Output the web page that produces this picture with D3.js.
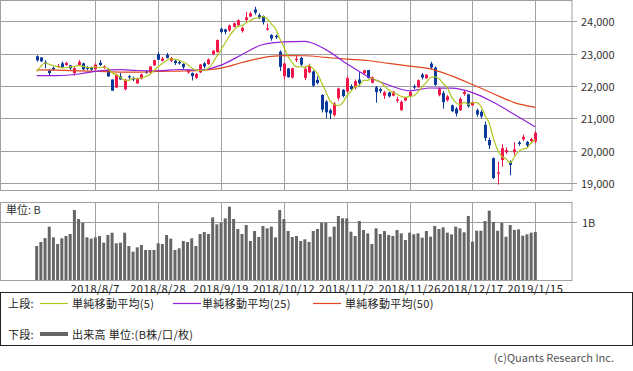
<!DOCTYPE html>
<html>
<head>
<meta charset="UTF-8">
<title>日経平均 日足</title>
<script src="https://d3js.org/d3.v7.min.js"></script>
<style>
  body { margin: 0; background: #fff; }
  text { font-family: "Noto Sans CJK JP", "Noto Sans", sans-serif; }
</style>
</head>
<body>
<svg id="chart"></svg>
<script>
// daily candles, 2018/7/18 .. 2019/1/15 (index 0..119)
const opens = [22920,22880,22730,22480,22560,22600,22700,22650,22640,22400,
  22650,22700,22580,22580,22520,22720,22560,22500,22200,21950,
  22300,21900,22310,22250,22080,22230,22450,22420,22640,22990,
  22780,22960,22780,22780,22740,22680,22420,22400,22250,22420,
  22700,22680,22990,23050,23770,23750,23720,23830,23880,23700,
  24040,24150,24364,24190,24160,23740,23580,23550,23060,22300,
  22540,22260,22800,22870,22250,22420,22450,22190,21720,21520,
  21250,21100,21620,21880,21830,22000,21950,22200,22400,22490,
  22100,21960,21900,21700,21800,21700,21540,21250,21550,21680,
  21990,21960,22350,22240,22690,22570,21720,21780,21560,21400,
  21300,21250,21750,21740,21400,21250,21200,20800,20330,19770,
  19290,19710,19950,19655,19950,20250,20350,20270,20300,20280];
const highs = [22950,22900,22800,22520,22600,22680,22760,22750,22650,22580,
  22800,22720,22620,22600,22700,22800,22640,22560,22200,22380,
  22400,22220,22330,22290,22260,22380,22480,22620,22810,23050,
  22900,23020,22900,22800,22780,22700,22520,22420,22400,22680,
  22740,22850,23100,23440,23800,23770,23900,23960,24060,23830,
  24290,24300,24448,24250,24180,23930,23600,23590,23100,22720,
  22560,22560,22960,22900,22620,22690,22480,22300,21750,21560,
  21300,21500,21950,21900,22300,22050,22200,22430,22500,22500,
  22300,22000,21950,21850,21820,21850,21670,21550,21660,21850,
  22050,22200,22400,22360,22750,22600,21950,21850,21720,21420,
  21350,21650,21880,21760,21520,21300,21250,20900,20400,19790,
  19660,20200,20100,19700,20266,20300,20494,20300,20400,20600];
const lows = [22750,22740,22550,22320,22480,22560,22560,22620,22500,22320,
  22620,22490,22480,22470,22500,22620,22530,22280,21850,21940,
  22190,21860,22200,22150,22060,22200,22380,22400,22620,22800,
  22760,22850,22740,22650,22660,22520,22380,22170,22220,22400,
  22540,22650,22950,23030,23620,23600,23680,23810,23860,23650,
  23990,24130,24203,24070,23900,23710,23400,23450,22460,22200,
  22260,22230,22740,22620,22180,22400,21970,22050,21180,21000,
  20971,21050,21550,21650,21800,21860,21900,21980,22350,22230,
  22080,21480,21780,21600,21640,21680,21480,21240,21530,21660,
  21900,21950,22200,22220,22520,22000,21680,21300,21520,21200,
  21060,21230,21700,21330,21380,21050,21000,20300,20050,19118,
  18949,19500,19900,19241,19850,20150,20300,20100,20250,20230];
const closes = [22794,22764,22698,22397,22510,22614,22586,22712,22544,22553,
  22746,22512,22525,22507,22662,22644,22598,22298,21857,22356,
  22204,22192,22270,22199,22219,22362,22410,22601,22799,22813,
  22848,22869,22865,22707,22696,22580,22487,22307,22373,22664,
  22604,22821,23094,23420,23672,23674,23869,23940,24033,23796,
  24120,24245,24270,24110,23975,23783,23469,23506,22590,22694,
  22271,22549,22841,22658,22532,22614,22010,22091,21268,21184,
  21149,21457,21920,21687,22243,21898,22147,22085,22486,22250,
  22269,21810,21846,21803,21680,21821,21583,21507,21646,21812,
  21952,22177,22262,22351,22574,22036,21919,21501,21678,21219,
  21148,21602,21816,21374,21506,21115,21060,20392,20166,19155,
  19327,20077,20015,19561,20038,20204,20427,20163,20360,20555];

// 5-day moving average, one value per candle
const ma5 = [22441,22608,22710,22670,22633,22597,22561,22564,22593,22602,
  22628,22613,22576,22569,22590,22570,22587,22542,22412,22351,
  22263,22181,22176,22244,22217,22248,22292,22358,22478,22597,
  22694,22786,22839,22820,22797,22743,22667,22555,22489,22482,
  22487,22554,22711,22921,23122,23336,23546,23715,23838,23862,
  23952,24027,24093,24108,24144,24077,23921,23769,23465,23208,
  22906,22722,22589,22603,22570,22639,22531,22381,22103,21833,
  21540,21430,21396,21479,21691,21841,21979,22012,22172,22173,
  22247,22180,22132,21996,21882,21792,21747,21679,21647,21674,
  21700,21819,21970,22111,22263,22280,22228,22076,21942,21671,
  21493,21430,21493,21432,21489,21483,21374,21089,20848,20378,
  20020,19823,19748,19627,19804,19979,20049,20079,20238,20342];

// 25 / 50 day averages, read at these candle indices
const maIdx = [0,5,10,15,20,24,29,34,39,44,49,54,59,64,69,74,79,84,89,94,99,104,109,114,119];
const ma25 = [22320,22320,22370,22470,22505,22478,22471,22510,22489,22643,22972,23282,23364,
  23381,23124,22689,22295,22030,21851,21937,21932,21796,21495,21121,20737];
const ma50 = [22500,22490,22470,22450,22430,22430,22450,22460,22480,22550,22725,22876,22937,
  22935,22883,22831,22788,22697,22616,22530,22311,22045,21762,21486,21337];

// volume in B
const volumes = [0.583,0.652,0.72,0.914,0.732,0.617,0.715,0.755,0.789,1.2,
  1.046,0.983,0.732,0.709,0.732,0.755,0.64,0.772,0.811,0.63,
  0.64,0.811,0.583,0.486,0.56,0.6,0.515,0.515,0.515,0.629,
  0.617,0.772,0.709,0.515,0.543,0.669,0.652,0.715,0.583,0.789,
  0.823,0.789,1.075,0.955,0.983,1.057,1.258,1.046,0.875,0.789,
  0.943,0.669,0.84,0.738,0.926,0.886,0.915,0.732,1.2,1.046,
  0.84,0.738,0.755,0.669,0.698,0.652,0.84,0.875,0.983,0.983,
  0.743,0.915,1.098,1.058,1.058,0.829,0.755,1.012,0.858,0.8,
  0.617,0.886,0.789,0.84,0.772,0.755,0.858,0.8,0.686,0.812,
  0.783,0.8,0.726,0.84,0.743,0.926,0.875,0.903,0.812,0.783,
  0.915,0.886,0.818,1.098,0.658,0.846,0.846,1.012,1.189,0.995,
  0.846,0.983,0.743,0.943,0.858,0.869,0.76,0.783,0.812,0.823];

const tickIdx = [14,29,44,59,74,89,104,119];
const tickLabels = ["2018/8/7","2018/8/28","2018/9/19","2018/10/12","2018/11/2","2018/11/26","2018/12/17","2019/1/15"];
const priceTicks = [19000,20000,21000,22000,23000,24000];
const volTicks = [1];

const width = 633, height = 371;
const plotR = 572;
const main = {top: 0, bottom: 190};
const vol = {top: 202, bottom: 280};
const grid = "#a0a0a0";
const upColor = "#f2164a", downColor = "#0c3a9c";

const svg = d3.select("#chart").attr("width", width).attr("height", height);

const x = d3.scaleLinear().domain([-8.75, 127.75]).range([0, plotR]);
const y = d3.scaleLinear().domain([19000, 24000]).range([183, 21.3]);
const yv = d3.scaleLinear().domain([0, 1]).range([vol.bottom, 221.7]);

// panel frames
[main, vol].forEach(p => {
  svg.append("rect")
    .attr("x", 0.5).attr("y", p.top + 0.5)
    .attr("width", plotR - 0.5).attr("height", p.bottom - p.top)
    .attr("fill", "none").attr("stroke", grid);
});

// vertical grid through both panels
[main, vol].forEach(p => {
  svg.append("g").selectAll("line").data(tickIdx).join("line")
    .attr("x1", d => Math.round(x(d)) + 0.5).attr("x2", d => Math.round(x(d)) + 0.5)
    .attr("y1", p.top).attr("y2", p.bottom)
    .attr("stroke", grid);
});

// price grid + labels
svg.append("g").selectAll("line").data(priceTicks).join("line")
  .attr("x1", 0).attr("x2", plotR + 5)
  .attr("y1", d => Math.round(y(d)) + 0.5).attr("y2", d => Math.round(y(d)) + 0.5)
  .attr("stroke", grid);
svg.append("g").selectAll("text").data(priceTicks).join("text")
  .attr("x", 581).attr("y", d => y(d))
  .attr("dominant-baseline", "central")
  .attr("font-size", "11px").attr("fill", "#333")
  .text(d3.format(","));

// volume grid + label
svg.append("g").selectAll("line").data(volTicks).join("line")
  .attr("x1", 0).attr("x2", plotR + 5)
  .attr("y1", d => Math.round(yv(d)) + 0.5).attr("y2", d => Math.round(yv(d)) + 0.5)
  .attr("stroke", grid);
svg.append("g").selectAll("text").data(volTicks).join("text")
  .attr("x", 582).attr("y", d => yv(d))
  .attr("dominant-baseline", "central")
  .attr("font-size", "11px").attr("fill", "#333")
  .text(d => d + "B");
svg.append("text").attr("x", 6).attr("y", 209)
  .attr("dominant-baseline", "central")
  .attr("font-size", "11px").attr("fill", "#333")
  .text("単位: B");

// volume bars
svg.append("g").selectAll("rect").data(volumes).join("rect")
  .attr("x", (d, i) => x(i) - 1.5).attr("width", 3)
  .attr("y", d => yv(d)).attr("height", d => vol.bottom - yv(d))
  .attr("fill", "#666");

// candles
const candles = svg.append("g").selectAll("g").data(closes).join("g");
candles.append("line")
  .attr("x1", (d, i) => Math.round(x(i)) + 0.5).attr("x2", (d, i) => Math.round(x(i)) + 0.5)
  .attr("y1", (d, i) => y(highs[i])).attr("y2", (d, i) => y(lows[i]))
  .attr("stroke", (d, i) => d >= opens[i] ? upColor : downColor);
candles.append("rect")
  .attr("x", (d, i) => Math.round(x(i)) - 1).attr("width", 3)
  .attr("y", (d, i) => y(Math.max(d, opens[i])))
  .attr("height", (d, i) => Math.max(1, Math.abs(y(d) - y(opens[i]))))
  .attr("fill", (d, i) => d >= opens[i] ? upColor : downColor);

// moving averages
const ma5Color = "#afc61e", ma25Color = "#9321d8", ma50Color = "#e2461c";
const line = d3.line().x(d => x(d[0])).y(d => y(d[1])).curve(d3.curveMonotoneX);
svg.append("path").datum(ma50.map((v, k) => [maIdx[k], v]))
  .attr("d", line).attr("fill", "none").attr("stroke", ma50Color).attr("stroke-width", 1.2);
svg.append("path").datum(ma25.map((v, k) => [maIdx[k], v]))
  .attr("d", line).attr("fill", "none").attr("stroke", ma25Color).attr("stroke-width", 1.2);
svg.append("path").datum(ma5.map((v, i) => [i, v]))
  .attr("d", line).attr("fill", "none").attr("stroke", ma5Color).attr("stroke-width", 1.2);

// date labels
svg.append("g").selectAll("text").data(tickIdx).join("text")
  .attr("x", d => x(d)).attr("y", 288)
  .attr("text-anchor", "middle").attr("dominant-baseline", "central")
  .attr("font-size", "11px").attr("letter-spacing", "0.5px").attr("fill", "#222")
  .text((d, k) => tickLabels[k]);

// legend
svg.append("rect").attr("x", 0.5).attr("y", 292.5).attr("width", 632).attr("height", 53)
  .attr("fill", "none").attr("stroke", "#222");
const lg = svg.append("g").attr("font-size", "11px").attr("fill", "#222").attr("letter-spacing", "0.3px");
lg.append("text").attr("x", 8).attr("y", 303).attr("dominant-baseline", "central").text("上段:");
[[40, 72, ma5Color, "単純移動平均(5)"], [173, 202, ma25Color, "単純移動平均(25)"], [313, 345, ma50Color, "単純移動平均(50)"]]
  .forEach(([lx, tx, c, t]) => {
    lg.append("line").attr("x1", lx).attr("x2", lx + 28).attr("y1", 303.5).attr("y2", 303.5)
      .attr("stroke", c).attr("stroke-width", 1.2);
    lg.append("text").attr("x", tx).attr("y", 303).attr("dominant-baseline", "central").text(t);
  });
lg.append("text").attr("x", 8).attr("y", 334).attr("dominant-baseline", "central").text("下段:");
lg.append("line").attr("x1", 40).attr("x2", 68).attr("y1", 334).attr("y2", 334)
  .attr("stroke", "#666").attr("stroke-width", 4);
lg.append("text").attr("x", 72).attr("y", 334).attr("dominant-baseline", "central").text("出来高 単位:(B株/口/枚)");

svg.append("text").attr("x", 614).attr("y", 357).attr("text-anchor", "end")
  .attr("dominant-baseline", "central").attr("font-size", "11px").attr("fill", "#555")
  .text("(c)Quants Research Inc.");
</script>
</body>
</html>
